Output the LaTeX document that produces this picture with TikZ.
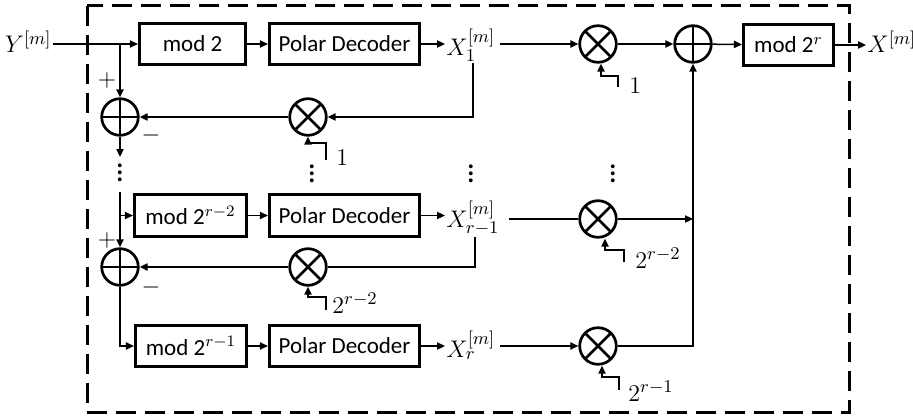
\documentclass[tikz,border=0pt]{standalone}
\usepackage{fontspec}
\setmainfont{Carlito}
\usetikzlibrary{arrows.meta,calc}
\newcommand\mydots{\vbox{\baselineskip=3.6pt\lineskiplimit=0pt\hbox{.}\hbox{.}\hbox{.}}}
\begin{document}
\begin{tikzpicture}[x=0.5pt,y=-0.5pt,
  conn/.style={line width=0.75pt},
  arr/.style={conn,-{Triangle[length=4pt,width=3.6pt]}},
  blk/.style={draw,line width=1.35pt,minimum height=20.7pt,inner sep=0pt,font=\fontsize{11.5}{13}\selectfont},
  mul/.style={circle,draw,line width=1.35pt,minimum size=18.3pt,inner sep=0pt,
    path picture={\draw[line width=1.35pt] (path picture bounding box.south west) -- (path picture bounding box.north east)
      (path picture bounding box.north west) -- (path picture bounding box.south east);}},
  add/.style={circle,draw,line width=1.35pt,minimum size=18.3pt,inner sep=0pt,
    path picture={\draw[line width=1.35pt] (path picture bounding box.north) -- (path picture bounding box.south)
      (path picture bounding box.west) -- (path picture bounding box.east);}},
  lbl/.style={inner sep=0.5pt,font=\fontsize{12.5}{14}\selectfont},
  dts/.style={inner sep=0pt,font=\fontsize{16}{16}\selectfont},
  frame/.style={line width=1.5pt,dash pattern=on 10pt off 4.5pt}]
\useasboundingbox (0,0) rectangle (913,417);
\draw[frame] (87,6) rectangle (849,412);

% row 1
\node[lbl,anchor=base east] (Y) at (53,53) {$Y^{[m]}$};
\node[blk,minimum width=53.2pt] (m1) at (192.5,44) {mod 2};
\node[blk,minimum width=75.2pt] (p1) at (344.5,44) {Polar Decoder};
\node[lbl,anchor=base west] (X1) at (445,55) {$X_1^{[m]}$};
\node[mul] (mul1) at (598,44) {};
\node[add] (sum) at (693,44) {};
\node[blk,minimum width=45.2pt] (mr) at (788.5,45) {mod 2$^r$};
\node[lbl,anchor=base west] (Xo) at (866,53) {$X^{[m]}$};
\node[lbl,anchor=base west] (o0) at (628,93) {$1$};

% feedback 1
\node[add] (a1) at (120,117) {};
\node[mul] (f1) at (308,117) {};
\node[lbl] (pl1) at (107,80) {$+$};
\node[lbl] (mi1) at (151,135) {$-$};
\node[lbl,anchor=base west] (o1) at (335,165) {$1$};

% dots
\node[dts] (vd1) at (120,173) {\mydots};
\node[dts] (vd2) at (312,174) {\mydots};
\node[dts] (vd3) at (471,174) {\mydots};
\node[dts] (vd4) at (613,174) {\mydots};

% row 2
\node[blk,minimum width=56.2pt] (m2) at (190.5,215.5) {mod 2$^{r-2}$};
\node[blk,minimum width=75.2pt] (p2) at (344.5,215.5) {Polar Decoder};
\node[lbl,anchor=base west] (X2) at (445,227) {$X_{r-1}^{[m]}$};
\node[mul] (mul2) at (598,219) {};
\node[lbl,anchor=base west] (o2) at (634,268) {$2^{r-2}$};

% feedback 2
\node[add] (a2) at (120,267) {};
\node[mul] (f2) at (308,267) {};
\node[lbl] (pl2) at (107,240) {$+$};
\node[lbl] (mi2) at (151,287) {$-$};
\node[lbl,anchor=base west] (o3) at (331,313) {$2^{r-2}$};

% row 3
\node[blk,minimum width=55.7pt] (m3) at (191,346) {mod 2$^{r-1}$};
\node[blk,minimum width=75.2pt] (p3) at (344.5,346) {Polar Decoder};
\node[lbl,anchor=base west] (X3) at (445,357) {$X_r^{[m]}$};
\node[mul] (mul3) at (598,346) {};
\node[lbl,anchor=base west] (o4) at (627,401) {$2^{r-1}$};

% connectors row 1
\draw[arr] (Y.east |- m1.west) -- (m1.west);
\coordinate (b1) at (120,44);
\draw[arr] (b1) -- (a1.north);
\draw[arr] (m1) -- (p1);
\draw[arr] (p1.east) -- (p1.east -| X1.west);
\draw[arr] ([xshift=1.5pt]X1.east |- mul1.west) -- (mul1.west);
\draw[arr] (mul1) -- (sum);
\draw[arr] (sum) -- (mr);
\draw[arr] (mr.east) -- (mr.east -| Xo.west);
\draw[arr] ([xshift=1pt]X1.south) |- (f1.east);
\draw[arr] (f1) -- (a1);
\coordinate (e1) at (120,157);
\draw[arr] (a1.south) -- (e1);

% connectors row 2
\coordinate (s2) at (120,192);
\draw[arr] (s2) -- (a2.north);
\draw[arr] (s2 |- m2.west) -- (m2.west);
\draw[arr] (m2) -- (p2);
\draw[arr] (p2.east) -- (p2.east -| X2.west);
\draw[conn] ([xshift=4pt]X2.east |- mul2.west) -- (mul2.west);
\draw[conn] ([xshift=1pt]X2.south) |- (f2.east);
\draw[arr] (f2) -- (a2);
\draw[arr] (mul2.east) -- (mul2.east -| sum.south);

% connectors row 3
\draw[arr] (a2.south) |- (m3.west);
\draw[arr] (m3) -- (p3);
\draw[arr] (p3.east) -- (p3.east -| X3.west);
\draw[arr] ([xshift=1.5pt]X3.east |- mul3.west) -- (mul3.west);
\draw[arr] (mul3.east) -| (sum.south);

% coefficient feeds
\coordinate (c0) at (618,87);
\draw[arr] (c0) -- ++(0,-11) -| ([xshift=1.5pt]mul1.south);
\coordinate (c1) at (326,160);
\draw[arr] (c1) -- ++(0,-17) -| (f1.south);
\coordinate (c2) at (624,262);
\draw[arr] (c2) -- ++(0,-12) -| ([xshift=3.5pt]mul2.south);
\coordinate (c3) at (326,310);
\draw[arr] (c3) -- ++(0,-13) -| (f2.south);
\coordinate (c4) at (619,390);
\draw[arr] (c4) -- ++(0,-13) -| ([xshift=2pt]mul3.south);
\end{tikzpicture}
\end{document}
